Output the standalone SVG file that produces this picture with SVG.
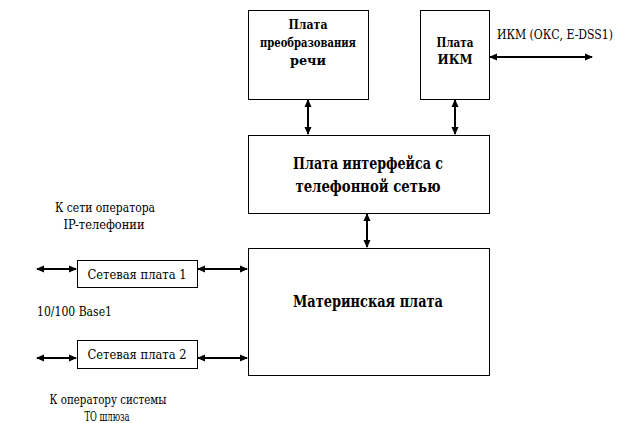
<svg xmlns="http://www.w3.org/2000/svg" width="623" height="423" viewBox="0 0 623 423">
<defs>
<marker id="ah" markerWidth="8" markerHeight="8" refX="7" refY="4" orient="auto-start-reverse" markerUnits="userSpaceOnUse">
<path d="M0,0.5 L8,4 L0,7.5 z" fill="#000"/>
</marker>
<style>
.box{fill:#fff;stroke:#000;stroke-width:1}
text{font-family:'DejaVu Serif Condensed','DejaVu Serif',serif;fill:#000;text-anchor:middle}
.b12{font-size:12.5px;font-weight:bold}
.b16{font-size:16.5px;font-weight:bold}
.r13{font-size:13.5px}
.r12{font-size:13px}
.c{stroke:#000;stroke-width:2;fill:none;marker-start:url(#ah);marker-end:url(#ah)}
</style>
</defs>
<rect width="623" height="423" fill="#fff"/>
<g id="speech">
<rect class="box" x="248.5" y="10.5" width="120" height="89"/>
<text class="b12" x="308" y="29" textLength="39" lengthAdjust="spacingAndGlyphs">Плата</text>
<text class="b12" x="308" y="47" textLength="96" lengthAdjust="spacingAndGlyphs">преобразования</text>
<text class="b12" x="308" y="65" textLength="36" lengthAdjust="spacingAndGlyphs">речи</text>
</g>
<g id="pcm">
<rect class="box" x="420.5" y="10.5" width="69" height="89"/>
<text class="b12" x="455" y="47" textLength="37" lengthAdjust="spacingAndGlyphs">Плата</text>
<text class="b12" x="455" y="64" textLength="35" lengthAdjust="spacingAndGlyphs">ИКМ</text>
</g>
<g id="iface">
<rect class="box" x="248.5" y="135.5" width="241" height="78"/>
<text class="b16" x="368" y="169" textLength="150" lengthAdjust="spacingAndGlyphs">Плата интерфейса с</text>
<text class="b16" x="368" y="192" textLength="145" lengthAdjust="spacingAndGlyphs">телефонной сетью</text>
</g>
<g id="mother">
<rect class="box" x="248.5" y="248.5" width="241" height="127"/>
<text class="b16" x="368" y="307" textLength="150" lengthAdjust="spacingAndGlyphs">Материнская плата</text>
</g>
<g id="net1">
<rect class="box" x="77.5" y="260.5" width="120" height="27"/>
<text class="r13" x="137" y="279" textLength="99" lengthAdjust="spacingAndGlyphs">Сетевая плата 1</text>
</g>
<g id="net2">
<rect class="box" x="77.5" y="340.5" width="120" height="28"/>
<text class="r13" x="137" y="359" textLength="99" lengthAdjust="spacingAndGlyphs">Сетевая плата 2</text>
</g>
<g id="labels">
<text class="r12" x="497" y="39" style="text-anchor:start" textLength="116" lengthAdjust="spacingAndGlyphs">ИКМ (ОКС, E-DSS1)</text>
<text class="r12" x="105" y="212" textLength="100" lengthAdjust="spacingAndGlyphs">К сети оператора</text>
<text class="r12" x="104" y="229" textLength="81" lengthAdjust="spacingAndGlyphs">IP-телефонии</text>
<text class="r12" x="37" y="316" style="text-anchor:start" textLength="75" lengthAdjust="spacingAndGlyphs">10/100 Base1</text>
<text class="r12" x="108" y="404" textLength="117" lengthAdjust="spacingAndGlyphs">К оператору системы</text>
<text class="r12" x="107" y="421" textLength="45" lengthAdjust="spacingAndGlyphs">ТО шлюза</text>
</g>
<g id="connectors">
<line class="c" x1="308" y1="100" x2="308" y2="134"/>
<line class="c" x1="455" y1="100" x2="455" y2="134"/>
<line class="c" x1="367" y1="214" x2="367" y2="247"/>
<line class="c" x1="490" y1="57" x2="592" y2="57"/>
<line class="c" x1="37" y1="269" x2="76" y2="269"/>
<line class="c" x1="198" y1="269" x2="247" y2="269"/>
<line class="c" x1="37" y1="358" x2="76" y2="358"/>
<line class="c" x1="198" y1="358" x2="247" y2="358"/>
</g>
</svg>
